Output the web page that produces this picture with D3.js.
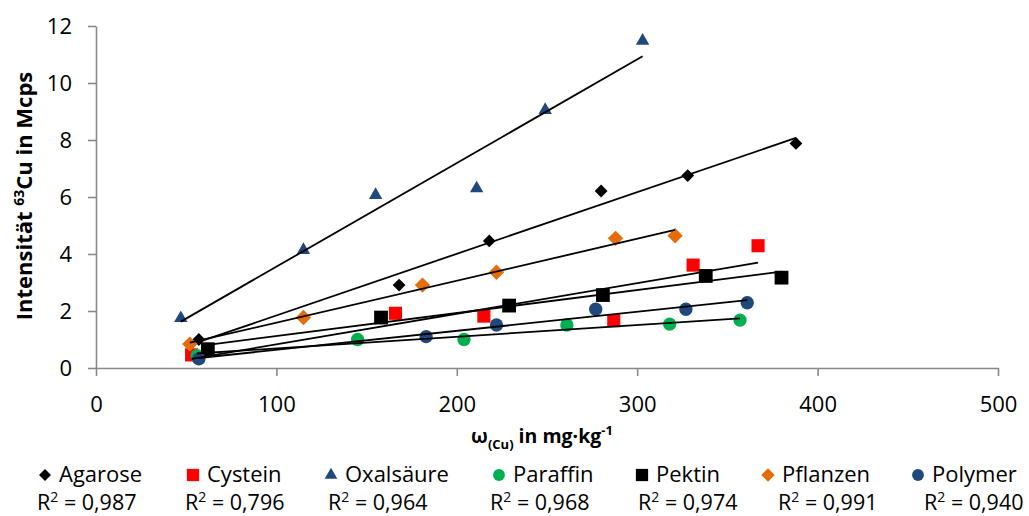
<!DOCTYPE html>
<html>
<head>
<meta charset="utf-8">
<script src="https://cdn.jsdelivr.net/npm/d3@7"></script>
<style>
  body { margin: 0; background: #fff; }
  text { font-family: 'Open Sans', sans-serif; fill: #000; }
</style>
</head>
<body>
<div class="chartContainer"></div>
<script>
var W = 1029;
var H = 516;

// ===== data =====
var seriesNames = ['Agarose', 'Cystein', 'Oxalsäure', 'Paraffin', 'Pektin', 'Pflanzen', 'Polymer'];
var agaroseX = [57, 168, 218, 280, 328, 388];
var agaroseY = [1.00, 2.91, 4.46, 6.21, 6.75, 7.88];
var cysteinX = [53, 166, 215, 287, 331, 367];
var cysteinY = [0.46, 1.92, 1.82, 1.66, 3.61, 4.29];
var oxalX = [47, 115, 155, 211, 249, 303];
var oxalY = [1.75, 4.14, 6.07, 6.30, 9.05, 11.48];
var paraffinX = [56, 145, 204, 261, 318, 357];
var paraffinY = [0.43, 1.00, 1.00, 1.51, 1.54, 1.68];
var pektinX = [62, 158, 229, 281, 338, 380];
var pektinY = [0.66, 1.77, 2.19, 2.56, 3.23, 3.17];
var pflanzenX = [52, 115, 181, 222, 288, 321];
var pflanzenY = [0.84, 1.77, 2.91, 3.36, 4.55, 4.64];
var polymerX = [57, 183, 222, 277, 327, 361];
var polymerY = [0.32, 1.10, 1.51, 2.06, 2.06, 2.29];
var rSquared = ['0,987', '0,796', '0,964', '0,968', '0,974', '0,991', '0,940'];
var xTicks = [0, 100, 200, 300, 400, 500];
var yTicks = [0, 2, 4, 6, 8, 10, 12];

var seriesX = [agaroseX, cysteinX, oxalX, paraffinX, pektinX, pflanzenX, polymerX];
var seriesY = [agaroseY, cysteinY, oxalY, paraffinY, pektinY, pflanzenY, polymerY];

// ===== styles =====
var colors = ['#000000', '#ff0000', '#1f497d', '#00b050', '#000000', '#e46c0a', '#1f497d'];
var shapes = ['diamond', 'square', 'triangle', 'circle', 'square', 'diamond', 'circle'];
var markSize = [82, 172, 78, 140, 190, 118, 140];
var legendSize = [72, 150, 70, 110, 150, 90, 110];
var legendMarkX = [45, 193, 331, 499, 642, 768, 918];
var legendR2X = [37, 185, 328, 490, 638, 778, 924];

var svg = d3.select('.chartContainer').append('svg')
  .attr('width', W).attr('height', H);
svg.append('rect').attr('width', W).attr('height', H).attr('fill', '#fff');

var xScale = d3.scaleLinear().domain([0, 500]).range([96, 998]);
var yScale = d3.scaleLinear().domain([0, 12]).range([368, 26]);

function symbolPath(shape, size) {
  var type = d3.symbolSquare;
  if (shape === 'triangle') type = d3.symbolTriangle;
  if (shape === 'circle') type = d3.symbolCircle;
  return d3.symbol().type(type).size(size)();
}
function symbolRotate(shape) {
  return shape === 'diamond' ? ' rotate(45)' : '';
}

/* ===== AXES ===== */
var xAxis = d3.axisBottom(xScale).tickValues(xTicks).tickSize(8).tickSizeOuter(0);
var yAxis = d3.axisLeft(yScale).tickValues(yTicks).tickSize(8).tickSizeOuter(0);

var gx = svg.append('g').attr('transform', 'translate(0,368)').call(xAxis);
var gy = svg.append('g').attr('transform', 'translate(96,0)').call(yAxis);

[gx, gy].forEach(function (g) {
  g.attr('font-family', null).attr('font-size', null);
  g.selectAll('path, line').attr('stroke', '#898989').attr('stroke-width', 1.6);
  g.selectAll('text').style('font-size', '22px');
});
gx.selectAll('text').attr('y', 44).attr('dy', 0);
gy.selectAll('text').attr('x', -24).attr('dy', '0.36em');

/* ===== AXIS TITLES ===== */
var yTitle = svg.append('text')
  .attr('transform', 'translate(32,196) rotate(-90)')
  .attr('text-anchor', 'middle')
  .style('font-size', '22px').style('font-weight', 'bold');
yTitle.append('tspan').text('Intensität ');
yTitle.append('tspan').text('63').style('font-size', '14px').attr('dy', -8);
yTitle.append('tspan').text('Cu in Mcps').attr('dy', 8);

var xTitle = svg.append('text')
  .attr('x', 542).attr('y', 443)
  .attr('text-anchor', 'middle')
  .style('font-size', '19.5px').style('font-weight', 'bold');
xTitle.append('tspan').text('ω');
xTitle.append('tspan').text('(Cu)').style('font-size', '13px').attr('dy', 6);
xTitle.append('tspan').text(' in mg·kg').attr('dy', -6);
xTitle.append('tspan').text('-1').style('font-size', '13px').attr('dy', -8);

/* ===== MARKERS ===== */
seriesNames.forEach(function (name, s) {
  var pts = seriesX[s].map(function (x, i) { return { x: x, y: seriesY[s][i] }; });
  svg.append('g').attr('class', 'series').selectAll('path')
    .data(pts)
    .enter()
    .append('path')
    .attr('d', symbolPath(shapes[s], markSize[s]))
    .attr('transform', function (d) {
      return 'translate(' + xScale(d.x) + ',' + yScale(d.y) + ')' + symbolRotate(shapes[s]);
    })
    .attr('fill', colors[s]);
});

/* ===== TRENDLINES (least squares) ===== */
seriesNames.forEach(function (name, s) {
  var xs = seriesX[s], ys = seriesY[s];
  var mx = d3.mean(xs), my = d3.mean(ys);
  var sxy = d3.sum(xs, function (x, i) { return (x - mx) * (ys[i] - my); });
  var sxx = d3.sum(xs, function (x) { return (x - mx) * (x - mx); });
  var slope = sxy / sxx;
  var x0 = d3.min(xs), x1 = d3.max(xs);
  svg.append('line')
    .attr('x1', xScale(x0)).attr('y1', yScale(my + slope * (x0 - mx)))
    .attr('x2', xScale(x1)).attr('y2', yScale(my + slope * (x1 - mx)))
    .attr('stroke', '#000').attr('stroke-width', 1.8);
});

/* ===== LEGEND ===== */
var legend = svg.append('g').attr('class', 'legend');
seriesNames.forEach(function (name, s) {
  var mx = legendMarkX[s];
  legend.append('path')
    .attr('d', symbolPath(shapes[s], legendSize[s]))
    .attr('transform', 'translate(' + mx + ',475)' + symbolRotate(shapes[s]))
    .attr('fill', colors[s]);
  legend.append('text')
    .attr('x', mx + 14).attr('y', 482)
    .style('font-size', '22px')
    .text(name);

  var r2 = legend.append('text')
    .attr('x', legendR2X[s]).attr('y', 510)
    .style('font-size', '21.5px');
  r2.append('tspan').text('R');
  r2.append('tspan').text('2').style('font-size', '14px').attr('dy', -8);
  r2.append('tspan').text(' = ' + rSquared[s]).attr('dy', 8);
});
</script>
</body>
</html>
